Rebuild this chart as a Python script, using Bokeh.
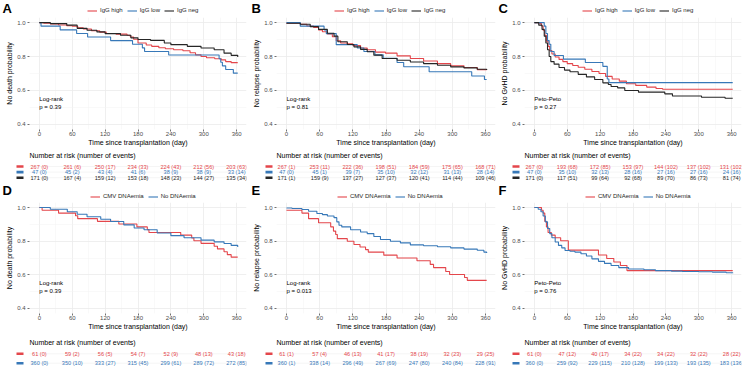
from bokeh.plotting import figure
from bokeh.layouts import row, column
from bokeh.models import Range1d, FixedTicker, Legend, LegendItem, Label, ColumnDataSource
from bokeh.core.properties import value
from bokeh.embed import file_html
from bokeh.resources import INLINE

FONT = "Liberation Sans"
RED = "#E4464B"
BLUE = "#3778B8"
BLACK = "#262626"

TICK_DAYS = [0, 60, 120, 180, 240, 300, 360]
MINOR_DAYS = [30, 90, 150, 210, 270, 330]
Y_TICKS = [0.4, 0.6, 0.8, 1.0]
Y_MINOR = [0.5, 0.7, 0.9]
X_START, X_END = -18, 378
Y_START, Y_END = 0.37, 1.03

IGG_GROUPS = ["IgG high", "IgG low", "IgG neg"]
CMV_GROUPS = ["CMV DNAemia", "No DNAemia"]

# ---------------- A: overall survival by IgG ----------------
A_high_t = [0, 8, 20, 35, 50, 60, 70, 80, 95, 110, 122, 140, 160, 166, 172, 180, 195, 205, 218, 230, 245, 262, 275, 285, 295, 305, 320, 332, 340, 350, 362]
A_high_s = [1.0, 0.996, 0.992, 0.986, 0.981, 0.978, 0.97, 0.962, 0.952, 0.944, 0.936, 0.932, 0.925, 0.915, 0.902, 0.88, 0.868, 0.86, 0.852, 0.846, 0.84, 0.834, 0.822, 0.81, 0.8, 0.793, 0.787, 0.78, 0.77, 0.764, 0.764]
A_low_t = [0, 3, 38, 68, 88, 130, 170, 188, 192, 236, 328, 331, 334, 340, 354, 362]
A_low_s = [1.0, 0.979, 0.957, 0.936, 0.915, 0.894, 0.872, 0.851, 0.830, 0.809, 0.787, 0.766, 0.745, 0.724, 0.702, 0.702]
A_neg_t = [0, 20, 50, 69, 87, 105, 120, 148, 167, 180, 203, 228, 240, 270, 295, 319, 337, 350, 362]
A_neg_s = [1.0, 0.994, 0.985, 0.966, 0.955, 0.945, 0.935, 0.925, 0.91, 0.9, 0.895, 0.88, 0.87, 0.86, 0.85, 0.84, 0.82, 0.807, 0.797]

A_high_n = [267, 261, 250, 234, 224, 212, 203]
A_high_e = [0, 6, 17, 33, 43, 56, 63]
A_low_n = [47, 45, 43, 41, 38, 38, 33]
A_low_e = [0, 2, 4, 6, 9, 9, 14]
A_neg_n = [171, 167, 159, 153, 148, 144, 135]
A_neg_e = [0, 4, 12, 18, 23, 27, 34]

# ---------------- B: relapse-free by IgG ----------------
B_high_t = [0, 25, 37, 49, 58, 65, 74, 83, 90, 98, 110, 120, 134, 146, 161, 179, 200, 224, 248, 273, 297, 321, 345, 362]
B_high_s = [0.996, 0.99, 0.98, 0.972, 0.956, 0.946, 0.933, 0.917, 0.893, 0.88, 0.875, 0.865, 0.85, 0.84, 0.826, 0.82, 0.804, 0.788, 0.774, 0.758, 0.745, 0.735, 0.723, 0.72]
B_low_t = [0, 25, 68, 72, 90, 128, 140, 160, 175, 200, 212, 258, 335, 358, 362]
B_low_s = [1.0, 0.979, 0.957, 0.935, 0.87, 0.85, 0.83, 0.81, 0.79, 0.765, 0.74, 0.71, 0.685, 0.665, 0.665]
B_neg_t = [0, 25, 43, 58, 74, 86, 93, 110, 122, 134, 146, 158, 173, 200, 224, 248, 273, 297, 321, 345, 362]
B_neg_s = [0.996, 0.99, 0.976, 0.96, 0.937, 0.92, 0.887, 0.871, 0.857, 0.842, 0.828, 0.808, 0.788, 0.778, 0.768, 0.758, 0.749, 0.739, 0.733, 0.725, 0.72]

B_high_n = [267, 253, 222, 198, 184, 175, 168]
B_high_e = [1, 11, 36, 51, 59, 65, 71]
B_low_n = [47, 45, 39, 35, 32, 31, 28]
B_low_e = [0, 1, 7, 10, 12, 13, 14]
B_neg_n = [171, 159, 137, 127, 120, 114, 109]
B_neg_e = [1, 9, 27, 37, 41, 44, 46]

# ---------------- C: GvHD-free by IgG ----------------
C_high_t = [0, 10, 13, 16, 19, 22, 25, 28, 32, 38, 45, 52, 60, 70, 80, 92, 105, 118, 130, 142, 155, 168, 185, 205, 222, 234, 362]
C_high_s = [1.0, 0.994, 0.98, 0.955, 0.925, 0.89, 0.86, 0.835, 0.815, 0.797, 0.783, 0.77, 0.758, 0.747, 0.737, 0.725, 0.712, 0.7, 0.683, 0.668, 0.655, 0.64, 0.63, 0.62, 0.612, 0.607, 0.607]
C_low_t = [0, 18, 21, 24, 27, 30, 36, 53, 93, 125, 133, 136, 362]
C_low_s = [1.0, 0.979, 0.936, 0.894, 0.872, 0.83, 0.806, 0.785, 0.765, 0.742, 0.668, 0.646, 0.646]
C_neg_t = [0, 8, 14, 18, 21, 24, 27, 30, 36, 45, 55, 65, 80, 95, 110, 125, 135, 140, 152, 165, 190, 238, 252, 305, 348, 362]
C_neg_s = [1.0, 0.985, 0.96, 0.92, 0.88, 0.84, 0.80, 0.77, 0.755, 0.735, 0.72, 0.71, 0.695, 0.68, 0.665, 0.645, 0.635, 0.623, 0.615, 0.60, 0.59, 0.58, 0.567, 0.56, 0.554, 0.554]

C_high_n = [267, 193, 172, 153, 144, 137, 131]
C_high_e = [0, 68, 85, 97, 102, 102, 102]
C_low_n = [47, 35, 32, 28, 27, 27, 24]
C_low_e = [0, 10, 13, 16, 16, 16, 16]
C_neg_n = [171, 117, 99, 92, 89, 86, 81]
C_neg_e = [0, 51, 64, 68, 70, 73, 74]

# ---------------- D: overall survival by CMV DNAemia ----------------
D_cmv_t = [0, 5, 35, 66, 70, 106, 145, 178, 197, 200, 258, 278, 282, 295, 319, 325, 337, 343, 350, 362]
D_cmv_s = [1.0, 0.984, 0.967, 0.951, 0.934, 0.918, 0.902, 0.885, 0.869, 0.852, 0.836, 0.819, 0.803, 0.787, 0.770, 0.754, 0.737, 0.72, 0.705, 0.705]
D_no_t = [0, 20, 51, 69, 87, 112, 130, 154, 173, 191, 215, 240, 264, 295, 319, 337, 350, 362]
D_no_s = [1.0, 0.99, 0.975, 0.96, 0.945, 0.93, 0.917, 0.897, 0.878, 0.868, 0.849, 0.833, 0.82, 0.806, 0.796, 0.786, 0.775, 0.765]

D_cmv_n = [61, 59, 56, 54, 52, 48, 43]
D_cmv_e = [0, 2, 5, 7, 9, 13, 18]
D_no_n = [360, 350, 333, 315, 299, 289, 272]
D_no_e = [0, 10, 27, 45, 61, 72, 85]

# ---------------- E: relapse-free by CMV DNAemia ----------------
E_cmv_t = [0, 28, 40, 58, 80, 85, 89, 92, 110, 122, 133, 143, 148, 176, 200, 236, 260, 266, 288, 295, 322, 327, 362]
E_cmv_s = [0.984, 0.967, 0.934, 0.91, 0.885, 0.86, 0.84, 0.815, 0.80, 0.78, 0.765, 0.75, 0.735, 0.717, 0.70, 0.684, 0.662, 0.643, 0.62, 0.602, 0.584, 0.567, 0.567]
E_no_t = [0, 10, 28, 40, 55, 65, 74, 86, 91, 95, 100, 116, 134, 146, 158, 170, 188, 206, 224, 248, 273, 297, 321, 345, 357, 362]
E_no_s = [0.997, 0.994, 0.988, 0.978, 0.965, 0.958, 0.95, 0.94, 0.915, 0.895, 0.885, 0.868, 0.855, 0.845, 0.828, 0.81, 0.80, 0.79, 0.778, 0.773, 0.767, 0.76, 0.753, 0.746, 0.735, 0.73]

E_cmv_n = [61, 57, 46, 41, 38, 32, 29]
E_cmv_e = [1, 4, 13, 17, 19, 23, 25]
E_no_n = [360, 338, 296, 267, 247, 240, 228]
E_no_e = [1, 14, 49, 69, 80, 84, 91]

# ---------------- F: GvHD-free by CMV DNAemia ----------------
F_cmv_t = [0, 13, 16, 19, 22, 25, 31, 38, 48, 62, 117, 132, 145, 157, 169, 362]
F_cmv_s = [1.0, 0.984, 0.967, 0.918, 0.885, 0.852, 0.836, 0.82, 0.803, 0.747, 0.718, 0.697, 0.676, 0.655, 0.625, 0.625]
F_no_t = [0, 7, 12, 16, 20, 24, 28, 32, 38, 44, 50, 56, 65, 74, 85, 95, 105, 117, 128, 140, 154, 172, 200, 221, 250, 270, 300, 325, 350, 362]
F_no_s = [1.0, 0.99, 0.975, 0.95, 0.915, 0.875, 0.845, 0.82, 0.795, 0.775, 0.76, 0.745, 0.74, 0.735, 0.725, 0.712, 0.695, 0.68, 0.668, 0.655, 0.643, 0.635, 0.63, 0.625, 0.622, 0.62, 0.618, 0.616, 0.612, 0.61]

F_cmv_n = [61, 47, 40, 34, 34, 32, 28]
F_cmv_e = [0, 12, 17, 22, 22, 22, 22]
F_no_n = [360, 259, 229, 210, 199, 193, 183]
F_no_e = [0, 92, 115, 128, 133, 135, 136]

# ---------------- layout constants (pixels) ----------------
FRAME_H = 113
COLS = [
    dict(left=29, frame=217, right=3),
    dict(left=27, frame=219, right=1),
    dict(left=28, frame=217, right=4),
]
TBL_LEFT = 13
ROWS = [
    dict(head_h=17, bottom=18, letter_y=8, legend_y=10, tbl_h=33, title_px=7,
         first_row_px=18, row_gap=5.6),
    dict(head_h=21, bottom=17, letter_y=9, legend_y=15, tbl_h=36, title_px=9.7,
         first_row_px=21.3, row_gap=9.4),
]
LEGEND_X = [58, 61]
LEGEND_H = 7


def bare_figure(w, h, xr, yr, left=0, right=0, top=0, bottom=0, **kw):
    p = figure(width=w, height=h, x_range=xr, y_range=yr, output_backend="svg",
               toolbar_location=None, title=None, min_border_left=left,
               min_border_right=right, min_border_top=top,
               min_border_bottom=bottom, frame_align=False, **kw)
    p.outline_line_color = None
    return p


def header(letter, series, col, rw, leg_x):
    """Panel letter and the group legend, drawn above the survival frame."""
    w = col["left"] + col["frame"] + col["right"]
    h = rw["head_h"]
    p = bare_figure(w, h, Range1d(0, w), Range1d(h, 0),
                    x_axis_type=None, y_axis_type=None)
    p.xgrid.visible = False
    p.ygrid.visible = False
    items = []
    for name, color in series:
        # key renderers sit outside the visible range; only their legend glyph shows
        r = p.line(x=[-20, -10], y=[-20, -20], line_color=color, line_width=1.1)
        items.append(LegendItem(label=name, renderers=[r]))
    leg = Legend(items=items, orientation="horizontal",
                 location=(col["left"] + leg_x, h - rw["legend_y"] - LEGEND_H / 2),
                 label_text_font=FONT, label_text_font_size="6px",
                 label_text_color="#262626",
                 label_height=LEGEND_H, glyph_width=10, glyph_height=LEGEND_H,
                 spacing=4, label_standoff=3, padding=0, margin=0,
                 border_line_color=None, background_fill_alpha=0)
    p.add_layout(leg)
    p.add_layout(Label(x=2, y=rw["letter_y"], text=letter, text_font=FONT,
                       text_font_size="13px", text_font_style="bold",
                       text_baseline="middle", text_align="left",
                       text_color="black"))
    return p


def km_plot(ylabel, series, test, pval, col, rw):
    w = col["left"] + col["frame"] + col["right"]
    h = FRAME_H + rw["bottom"]
    p = bare_figure(w, h, Range1d(X_START, X_END), Range1d(Y_START, Y_END),
                    left=col["left"], right=col["right"], top=0,
                    bottom=rw["bottom"])
    p.xaxis.ticker = FixedTicker(ticks=TICK_DAYS, minor_ticks=MINOR_DAYS)
    p.yaxis.ticker = FixedTicker(ticks=Y_TICKS, minor_ticks=Y_MINOR)
    p.yaxis.major_label_overrides = {t: f"{t:.1f}" for t in Y_TICKS}
    p.xaxis.axis_label = "Time since transplantation (day)"
    p.yaxis.axis_label = ylabel
    for ax in (p.xaxis[0], p.yaxis[0]):
        ax.axis_line_color = None
        ax.major_tick_in = 0
        ax.major_tick_out = 2
        ax.major_tick_line_color = "#333333"
        ax.major_tick_line_width = 0.7
        ax.minor_tick_in = 0
        ax.minor_tick_out = 0
        ax.major_label_text_font = FONT
        ax.major_label_text_font_size = "6px"
        ax.major_label_text_color = "#4D4D4D"
        ax.axis_label_text_font = FONT
        ax.axis_label_text_font_size = "7px"
        ax.axis_label_text_font_style = "normal"
        ax.axis_label_text_color = "black"
    p.yaxis.major_label_standoff = 2
    p.yaxis.axis_label_standoff = 1
    p.xaxis.major_label_standoff = 0
    p.xaxis.axis_label_standoff = 0
    for g in (p.xgrid[0], p.ygrid[0]):
        g.grid_line_color = "#EBEBEB"
        g.grid_line_width = 0.8
        g.minor_grid_line_color = "#F2F2F2"
        g.minor_grid_line_width = 0.5

    for name, t, s, color in series:
        p.step(x=t, y=s, mode="after", line_color=color, line_width=1.1)

    p.add_layout(Label(x=0, y=0.552, text=test, text_font=FONT,
                       text_font_size="6px", text_baseline="middle",
                       text_color="black"))
    p.add_layout(Label(x=0, y=0.502, text=f"p = {pval}", text_font=FONT,
                       text_font_size="6px", text_baseline="middle",
                       text_color="black"))
    return p


def risk_table(groups, col, rw):
    w = col["left"] + col["frame"] + col["right"]
    ppd = col["frame"] / (X_END - X_START)
    x0 = X_START - (col["left"] - TBL_LEFT) / ppd
    gap = rw["row_gap"]
    top = -rw["first_row_px"] / gap
    bottom = top + rw["tbl_h"] / gap
    p = bare_figure(w, rw["tbl_h"], Range1d(x0, X_END), Range1d(bottom, top),
                    left=TBL_LEFT, right=col["right"],
                    x_axis_type=None, y_axis_type=None)
    p.xgrid.visible = False
    p.ygrid.visible = False
    n_rows = len(groups)
    p.segment(x0=[X_START] * n_rows, x1=[X_END] * n_rows,
              y0=list(range(n_rows)), y1=list(range(n_rows)),
              line_color="#EFEFEF", line_width=0.6)
    for i, (n, e, color) in enumerate(groups):
        labels = [f"{a} ({b})" for a, b in zip(n, e)]
        src = ColumnDataSource(dict(x=TICK_DAYS, y=[i] * len(TICK_DAYS), t=labels))
        p.text(x="x", y="y", text="t", source=src, text_color=color,
               text_font=value(FONT), text_font_size="5.6px",
               text_align="center", text_baseline="middle")
        p.quad(left=[x0 + 3 / ppd], right=[x0 + 10 / ppd],
               bottom=[i + 1.3 / gap], top=[i - 1.3 / gap],
               fill_color=color, line_color=None)
    p.add_layout(Label(x=X_START, y=top + rw["title_px"] / gap,
                       text="Number at risk (number of events)",
                       text_font=FONT, text_font_size="7px",
                       text_baseline="middle", text_color="black"))
    return p


def panel(letter, ylabel, curves, risks, test, pval, ci, ri):
    col, rw = COLS[ci], ROWS[ri]
    head = header(letter, [(c[0], c[3]) for c in curves], col, rw, LEGEND_X[ri])
    km = km_plot(ylabel, curves, test, pval, col, rw)
    tbl = risk_table(risks, col, rw)
    return column(head, km, tbl, spacing=0)


top_row = row(
    panel("A", "No death probability",
          [(IGG_GROUPS[0], A_high_t, A_high_s, RED), (IGG_GROUPS[1], A_low_t, A_low_s, BLUE),
           (IGG_GROUPS[2], A_neg_t, A_neg_s, BLACK)],
          [(A_high_n, A_high_e, RED), (A_low_n, A_low_e, BLUE), (A_neg_n, A_neg_e, BLACK)],
          "Log-rank", "0.39", 0, 0),
    panel("B", "No relapse probability",
          [(IGG_GROUPS[0], B_high_t, B_high_s, RED), (IGG_GROUPS[1], B_low_t, B_low_s, BLUE),
           (IGG_GROUPS[2], B_neg_t, B_neg_s, BLACK)],
          [(B_high_n, B_high_e, RED), (B_low_n, B_low_e, BLUE), (B_neg_n, B_neg_e, BLACK)],
          "Log-rank", "0.81", 1, 0),
    panel("C", "No GvHD probability",
          [(IGG_GROUPS[0], C_high_t, C_high_s, RED), (IGG_GROUPS[1], C_low_t, C_low_s, BLUE),
           (IGG_GROUPS[2], C_neg_t, C_neg_s, BLACK)],
          [(C_high_n, C_high_e, RED), (C_low_n, C_low_e, BLUE), (C_neg_n, C_neg_e, BLACK)],
          "Peto-Peto", "0.27", 2, 0),
    spacing=0)

bottom_row = row(
    panel("D", "No death probability",
          [(CMV_GROUPS[0], D_cmv_t, D_cmv_s, RED), (CMV_GROUPS[1], D_no_t, D_no_s, BLUE)],
          [(D_cmv_n, D_cmv_e, RED), (D_no_n, D_no_e, BLUE)],
          "Log-rank", "0.39", 0, 1),
    panel("E", "No relapse probability",
          [(CMV_GROUPS[0], E_cmv_t, E_cmv_s, RED), (CMV_GROUPS[1], E_no_t, E_no_s, BLUE)],
          [(E_cmv_n, E_cmv_e, RED), (E_no_n, E_no_e, BLUE)],
          "Log-rank", "0.013", 1, 1),
    panel("F", "No GvHD probability",
          [(CMV_GROUPS[0], F_cmv_t, F_cmv_s, RED), (CMV_GROUPS[1], F_no_t, F_no_s, BLUE)],
          [(F_cmv_n, F_cmv_e, RED), (F_no_n, F_no_e, BLUE)],
          "Peto-Peto", "0.76", 2, 1),
    spacing=0)

layout = column(top_row, bottom_row, spacing=0)

with open("out.html", "w") as f:
    f.write(file_html(layout, INLINE))
